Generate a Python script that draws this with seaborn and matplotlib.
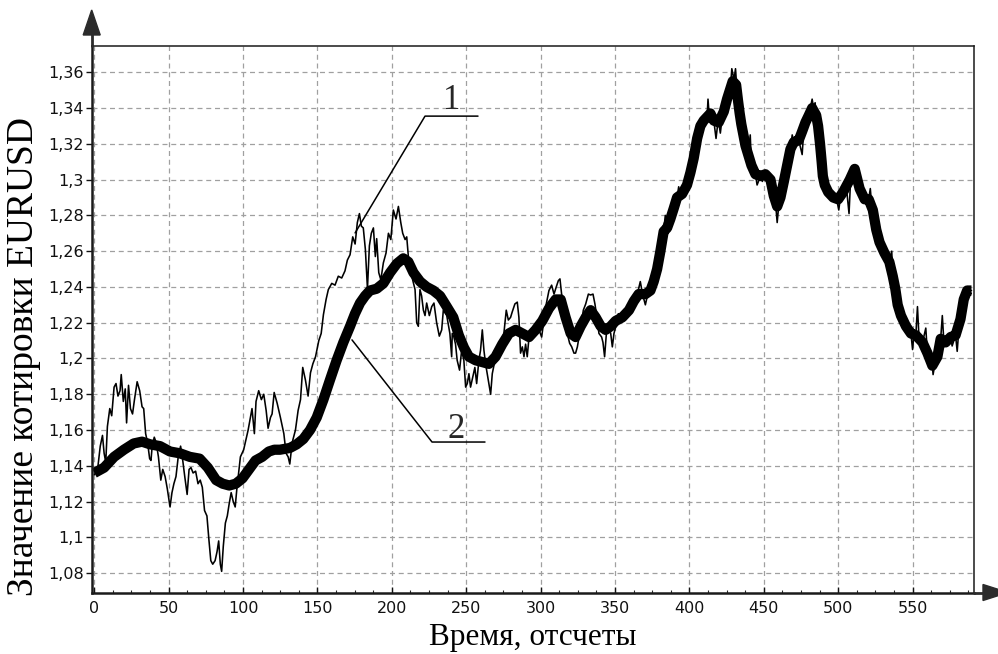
import matplotlib
matplotlib.use("Agg")
import matplotlib.pyplot as plt
import numpy as np
import pandas as pd
import seaborn as sns
from matplotlib.patches import Polygon
from matplotlib.ticker import MultipleLocator, FixedLocator, FixedFormatter

# ---------------- data ----------------
raw_t = [0, 2.2, 4.0, 5.5, 6.6, 7.7, 8.8, 10.4, 11.7, 13.3, 14.6, 15.9, 17.3, 18.1, 19.5, 20.8,
         21.7, 23.0, 24.3, 25.7, 27.0, 28.8, 30.5, 32.1, 33.2, 34.5, 35.8, 37.2, 38.1, 38.9, 40.3,
         41.6, 43.1, 44.7, 46.0, 47.6, 49.1, 50.9, 52.2, 53.5, 54.9, 56.4, 58.0, 59.3, 60.8, 62.4,
         63.7, 65.0, 66.4, 68.1, 69.7, 71.2, 72.6, 74.1, 75.7, 77.0, 78.3, 79.6, 81.2, 82.5, 83.6,
         84.7, 85.6, 86.7, 88.1, 89.4, 90.7, 92.0, 93.4, 94.7, 95.8, 96.9, 98.2,
         100.4, 103.4, 106.0, 107.6, 108.7, 110.5, 112.3, 113.9, 115.5, 116.8, 118.4, 119.5, 120.9,
         122.9, 125.1, 127.4, 128.9, 130.3, 131.4, 133.0, 135.2, 137.0, 138.6, 140.1, 141.9, 143.7,
         145.3, 146.9, 148.7, 150.9, 152.5,
         154.0, 155.8, 157.3, 159.6, 161.8, 164.0, 166.3, 168.5, 170.1, 171.9, 173.7, 175.3, 176.8,
         178.2, 179.5, 180.8, 182.2, 183.6, 184.9, 186.2, 187.6, 188.9, 189.8, 191.2, 192.6, 194.3,
         196.1, 197.7, 199.3, 201.0, 202.8, 204.4, 206.0, 207.3, 208.9, 210.0, 211.1, 212.2, 214.0,
         215.6, 216.7, 217.8, 218.9, 220.0, 221.2, 222.3, 223.4, 225.2, 226.8, 228.3, 230.1, 231.9,
         233.5, 234.6, 236.9, 239.0, 240.2,
         240.6, 241.7, 242.8, 243.9, 245.5, 246.9, 248.4, 249.6, 250.7, 251.8, 252.9, 254.5, 255.8,
         257.0, 258.5, 259.6, 260.8, 261.9, 263.0, 264.1, 265.2, 266.4, 267.5, 269.3, 270.9, 273.1,
         275.3, 276.9, 278.3, 279.8, 280.9, 282.7, 284.3, 285.4, 286.5, 287.7, 288.8, 289.9, 291.0,
         292.2, 294.4, 296.6, 298.9, 300.7, 302.2, 303.8, 305.6, 307.4, 309.0, 310.5, 311.9, 313.0,
         314.1, 315.7, 316.8, 317.9, 319.5, 320.9, 322.4, 323.5, 324.7, 325.8, 327.4, 328.7, 330.3,
         332.1, 333.6, 335.2, 336.5, 338.1, 339.2, 341.0, 341.9, 343.0, 344.2, 345.5, 347.1, 348.2,
         349.3, 350.4, 352.2, 353.8, 355.4, 357.2, 359.4, 361.2,
         363.0, 365.0, 367.0, 368.5, 370.4, 372.0, 373.8, 376.0, 378.3, 380.5, 382.7, 383.8, 385.0,
         387.2, 389.5, 391.7, 392.8, 394.0, 395.1, 398.4, 399.5, 400.7, 402.9, 405.2, 407.4, 409.6,
         411.9, 412.5, 413.3, 414.1, 416.4, 417.9, 419.0, 419.7, 420.8, 421.8, 423.1, 425.3, 427.6,
         428.5, 430.0, 431.0, 431.8, 432.7, 433.8, 434.9, 436.3, 437.7, 439.5, 440.9, 441.7, 442.5,
         444.4, 445.5, 447.8, 449.0, 451.1, 454.5, 456.7, 458.0, 459.0, 460.0, 461.2, 463.5, 465.7,
         467.9, 469.1, 470.2, 473.5, 475.8, 476.8, 478.0, 480.3, 482.5, 483.5, 484.5, 485.2, 486.5,
         487.8, 488.9, 489.7, 491.0, 493.3, 496.7, 499.0, 500.4, 501.5, 503.3, 505.5, 507.3, 508.3,
         511.1, 512.5, 514.4, 517.8, 520.5, 521.6, 522.4, 523.3, 525.6, 527.8, 531.1, 533.4, 534.4,
         536.0, 536.7, 538.4, 540.0, 542.2, 545.6, 548.9, 550.0, 551.0, 552.2, 553.3, 554.3, 556.7,
         558.9, 559.8, 561.0, 563.3, 563.8, 565.0, 566.7, 568.9, 570.0, 571.0, 572.2, 575.6, 576.6,
         578.9, 580.0, 581.0, 582.2, 584.4, 586.7, 589.6]
raw_v = [1.135, 1.138, 1.151, 1.157, 1.147, 1.142, 1.162, 1.172, 1.168, 1.184, 1.186, 1.179, 1.182,
         1.191, 1.176, 1.183, 1.164, 1.185, 1.172, 1.169, 1.177, 1.187, 1.182, 1.173, 1.172, 1.158,
         1.153, 1.144, 1.143, 1.151, 1.156, 1.153, 1.145, 1.132, 1.138, 1.134, 1.127, 1.117, 1.125,
         1.130, 1.134, 1.145, 1.151, 1.144, 1.134, 1.124, 1.138, 1.139, 1.136, 1.137, 1.130, 1.132,
         1.128, 1.115, 1.112, 1.099, 1.087, 1.085, 1.087, 1.092, 1.098, 1.085, 1.081, 1.095, 1.108,
         1.112, 1.119, 1.125, 1.120, 1.117, 1.127, 1.135, 1.145,
         1.149, 1.160, 1.172, 1.158, 1.176, 1.182, 1.177, 1.180, 1.171, 1.161, 1.167, 1.169, 1.181,
         1.175, 1.167, 1.158, 1.147, 1.145, 1.141, 1.153, 1.160, 1.171, 1.177, 1.195, 1.188, 1.179,
         1.192, 1.197, 1.201, 1.210, 1.214,
         1.2245, 1.233, 1.2385, 1.242, 1.241, 1.246, 1.245, 1.249, 1.255, 1.258, 1.268, 1.264, 1.276,
         1.281, 1.274, 1.273, 1.261, 1.239, 1.263, 1.270, 1.273, 1.257, 1.267, 1.248, 1.244, 1.2535,
         1.259, 1.270, 1.2665, 1.283, 1.278, 1.285, 1.276, 1.270, 1.2665, 1.268, 1.257, 1.250, 1.244,
         1.2385, 1.220, 1.218, 1.2385, 1.235, 1.227, 1.224, 1.231, 1.224, 1.229, 1.231, 1.220, 1.2125,
         1.216, 1.227, 1.224, 1.214, 1.201,
         1.214, 1.212, 1.208, 1.199, 1.1935, 1.2045, 1.199, 1.184, 1.186, 1.1915, 1.184, 1.190, 1.195,
         1.186, 1.199, 1.2045, 1.216, 1.2045, 1.197, 1.1915, 1.186, 1.180, 1.1915, 1.199, 1.203, 1.2065,
         1.214, 1.227, 1.2215, 1.223, 1.226, 1.2305, 1.2315, 1.223, 1.203, 1.2065, 1.201, 1.208, 1.201,
         1.212, 1.214, 1.2175, 1.216, 1.212, 1.2215, 1.2305, 1.238, 1.241, 1.236, 1.240, 1.2435, 1.2445,
         1.236, 1.2305, 1.223, 1.214, 1.2085, 1.2065, 1.203, 1.203, 1.2065, 1.212, 1.2195, 1.227, 1.2305,
         1.236, 1.2355, 1.236, 1.2305, 1.2215, 1.214, 1.212, 1.209, 1.201, 1.214, 1.2175, 1.214, 1.2065,
         1.214, 1.2175, 1.225, 1.225, 1.223, 1.227, 1.229, 1.2325,
         1.233, 1.236, 1.243, 1.236, 1.230, 1.236, 1.238, 1.243, 1.250, 1.260, 1.271, 1.280, 1.273,
         1.278, 1.284, 1.290, 1.296, 1.291, 1.292, 1.297, 1.295, 1.304, 1.312, 1.323, 1.330, 1.333,
         1.335, 1.345, 1.336, 1.337, 1.333, 1.323, 1.331, 1.332, 1.326, 1.333, 1.338, 1.345, 1.351,
         1.362, 1.356, 1.362, 1.352, 1.344, 1.337, 1.331, 1.325, 1.319, 1.314, 1.325, 1.308, 1.312,
         1.303, 1.297, 1.302, 1.299, 1.303, 1.300, 1.291, 1.286, 1.276, 1.285, 1.290, 1.299, 1.308,
         1.317, 1.325, 1.321, 1.322, 1.314, 1.327, 1.332, 1.336, 1.345, 1.340, 1.343, 1.336, 1.330,
         1.320, 1.310, 1.302, 1.297, 1.293, 1.290, 1.289, 1.283, 1.290, 1.293, 1.296, 1.281, 1.299,
         1.308, 1.303, 1.295, 1.289, 1.289, 1.295, 1.287, 1.283, 1.272, 1.265, 1.259, 1.257, 1.254,
         1.260, 1.246, 1.239, 1.230, 1.224, 1.218, 1.214, 1.205, 1.214, 1.213, 1.229, 1.212, 1.209,
         1.217, 1.205, 1.202, 1.196, 1.191, 1.197, 1.201, 1.211, 1.224, 1.210, 1.209, 1.212, 1.207,
         1.213, 1.204, 1.215, 1.222, 1.233, 1.238, 1.238]

smooth_t = [0, 6.6, 13.3, 19.9, 26.5, 32.1, 37.6, 44.2, 50.9, 57.5, 64.2, 70.8, 76.3, 81.9, 86.3,
            90.7, 95.1, 99.6, 104.0, 108.4, 112.8, 117.3, 121.0, 124.8, 131.5, 136.0, 140.5, 145.0,
            149.5, 154.0, 158.4, 162.9, 167.4, 171.9, 175.2, 178.6, 182.0, 185.3, 189.8, 194.3, 198.8,
            203.3, 207.7, 211.1, 214.5, 219.0, 223.4, 227.9, 232.4, 236.9, 241.3, 245.0, 248.5, 251.8,
            256.3, 260.8, 265.2, 269.7, 274.2, 278.7, 283.2, 287.7, 292.2, 296.6, 301.1, 305.6, 310.1,
            313.5, 316.8, 320.2, 323.5, 326.9, 330.3, 333.6, 337.0, 340.4, 343.7, 347.1, 350.4, 354.9,
            359.4, 362.6, 365.9, 370.4, 373.8, 376.0, 378.3, 380.5, 382.7, 385.0, 387.2, 389.5, 391.7,
            395.1, 398.4, 400.7, 402.9, 405.2, 407.4, 409.6, 411.9, 414.1, 416.4, 419.7, 423.1, 425.3,
            427.6, 429.1, 431.4, 432.7, 433.8, 434.9, 436.3, 437.7, 439.5, 441.7, 444.4, 447.8, 451.1,
            454.5, 456.7, 459.0, 461.2, 463.5, 465.7, 467.9, 470.2, 473.5, 475.8, 478.0, 480.3, 482.5,
            485.2, 486.5, 487.8, 488.9, 489.7, 491.0, 493.3, 496.7, 500.0, 503.3, 507.8, 511.1, 514.4,
            517.8, 520.5, 523.3, 525.6, 527.8, 531.1, 534.4, 536.7, 538.4, 540.0, 542.2, 545.6, 548.9,
            552.2, 556.7, 560.0, 563.3, 566.7, 568.9, 572.2, 575.6, 578.9, 582.2, 584.4, 586.7, 589.6]
smooth_v = [1.136, 1.139, 1.145, 1.149, 1.1525, 1.1535, 1.152, 1.151, 1.148, 1.147, 1.145, 1.144,
            1.139, 1.132, 1.130, 1.129, 1.130, 1.133, 1.138, 1.143, 1.145, 1.148, 1.149, 1.149, 1.150,
            1.152, 1.155, 1.160, 1.167, 1.177, 1.188, 1.199, 1.209, 1.218, 1.225, 1.231, 1.235, 1.238,
            1.239, 1.242, 1.248, 1.253, 1.256, 1.254, 1.248, 1.243, 1.240, 1.238, 1.235, 1.229, 1.223,
            1.213, 1.206, 1.201, 1.199, 1.198, 1.197, 1.201, 1.208, 1.214, 1.216, 1.214, 1.212, 1.216,
            1.221, 1.228, 1.233, 1.233, 1.223, 1.214, 1.212, 1.218, 1.223, 1.227, 1.223, 1.218, 1.216,
            1.218, 1.221, 1.223, 1.227, 1.232, 1.236, 1.236, 1.238, 1.243, 1.250, 1.260, 1.271, 1.273,
            1.278, 1.284, 1.290, 1.292, 1.297, 1.304, 1.312, 1.323, 1.330, 1.333, 1.335, 1.337, 1.333,
            1.332, 1.338, 1.345, 1.351, 1.355, 1.353, 1.344, 1.337, 1.331, 1.325, 1.319, 1.314, 1.308,
            1.303, 1.302, 1.303, 1.300, 1.291, 1.285, 1.290, 1.299, 1.308, 1.317, 1.321, 1.322, 1.327,
            1.332, 1.336, 1.340, 1.336, 1.330, 1.320, 1.310, 1.302, 1.297, 1.293, 1.290, 1.289, 1.293,
            1.300, 1.306, 1.295, 1.289, 1.289, 1.283, 1.272, 1.265, 1.259, 1.254, 1.246, 1.239, 1.230,
            1.224, 1.218, 1.214, 1.213, 1.209, 1.203, 1.196, 1.201, 1.211, 1.209, 1.212, 1.213, 1.222,
            1.233, 1.238, 1.238]

x_ticks = [0, 50, 100, 150, 200, 250, 300, 350, 400, 450, 500, 550]
y_ticks = [1.08, 1.10, 1.12, 1.14, 1.16, 1.18, 1.20, 1.22, 1.24, 1.26, 1.28, 1.30, 1.32, 1.34, 1.36]
y_tick_labels = ["1,08", "1,1", "1,12", "1,14", "1,16", "1,18", "1,2", "1,22", "1,24",
                 "1,26", "1,28", "1,3", "1,32", "1,34", "1,36"]
x_label = "Время, отсчеты"
y_label = "Значение котировки EURUSD"
curve_labels = ["1", "2"]

# ---------------- style ----------------
sns.set_style("ticks")
plt.rcParams['font.family'] = ['DejaVu Sans']

W, H = 998, 654
fig = plt.figure(figsize=(W / 100, H / 100), dpi=100)
fig.patch.set_facecolor("white")
L, R, T, B = 91.7, 974.3, 46.0, 593.0
ax = fig.add_axes([L / W, 1 - B / H, (R - L) / W, (B - T) / H])

raw_df = pd.DataFrame({"t": raw_t, "v": raw_v})
smooth_df = pd.DataFrame({"t": smooth_t, "v": smooth_v})

sns.lineplot(data=smooth_df, x="t", y="v", ax=ax, color="black", linewidth=7.4,
             estimator=None, sort=False, solid_joinstyle="round", solid_capstyle="butt")
sns.lineplot(data=raw_df, x="t", y="v", ax=ax, color="black", linewidth=1.15,
             estimator=None, sort=False)

ax.set_xlim(-1.75, 591.5)
ax.set_ylim(1.0689, 1.3747)

ax.xaxis.set_major_locator(FixedLocator(x_ticks))
ax.xaxis.set_minor_locator(MultipleLocator(12.5))
ax.yaxis.set_major_locator(FixedLocator(y_ticks))
ax.yaxis.set_major_formatter(FixedFormatter(y_tick_labels))

ax.grid(True, which="major", linestyle=(0, (4, 3)), color="#a0a0a0", linewidth=0.9)
ax.set_axisbelow(True)

ax.tick_params(axis="x", which="major", direction="in", length=4, width=1, pad=6,
               labelsize=11.5, colors="#111111")
ax.tick_params(axis="x", which="minor", direction="in", length=2.5, width=0.8)
ax.tick_params(axis="y", which="major", direction="out", length=4, width=1, pad=1.5,
               labelsize=11.5, colors="#111111")

for side in ["left", "bottom"]:
    ax.spines[side].set_linewidth(1.8)
    ax.spines[side].set_color("#1a1a1a")
for side in ["top", "right"]:
    ax.spines[side].set_linewidth(1.1)
    ax.spines[side].set_color("#1a1a1a")

ax.set_xlabel(x_label, fontsize=22.5, family=["Liberation Serif"], color="black")
ax.xaxis.set_label_coords(0.5, -0.055)
ax.set_ylabel(y_label, fontsize=27, family=["Liberation Serif"], color="black")
ax.yaxis.set_label_coords(-0.057, 0.433)

# leader lines and curve numbers
ax.plot([175.3, 222.3, 257.9], [1.2702, 1.3355, 1.3355], color="black", lw=1.1)
ax.plot([173.2, 227.0, 262.6], [1.2104, 1.1533, 1.1533], color="black", lw=1.1)
ax.text(240.2, 1.3395, curve_labels[0], fontsize=25, family=["Liberation Serif"],
        ha="center", va="baseline")
ax.text(242.9, 1.1556, curve_labels[1], fontsize=25, family=["Liberation Serif"],
        ha="center", va="baseline")

# axis arrows (figure inches)
tr = fig.dpi_scale_trans
ax_col = "#2b2b2b"
yx = L / 100
fig.add_artist(plt.Line2D([yx, yx], [(H - T) / 100, (H - 30) / 100], transform=tr,
                          color=ax_col, lw=2.0))
fig.add_artist(Polygon([[yx, (H - 10) / 100], [yx - 0.085, (H - 35) / 100],
                        [yx + 0.085, (H - 35) / 100]], closed=True, transform=tr,
                       facecolor=ax_col, edgecolor=ax_col))
xy_ = (H - 592.5) / 100
fig.add_artist(plt.Line2D([R / 100, 9.86], [xy_, xy_], transform=tr, color=ax_col, lw=2.0))
fig.add_artist(Polygon([[10.08, xy_], [9.83, xy_ + 0.08], [9.83, xy_ - 0.08]], closed=True,
                       transform=tr, facecolor=ax_col, edgecolor=ax_col))

fig.savefig("out.png", dpi=100)
